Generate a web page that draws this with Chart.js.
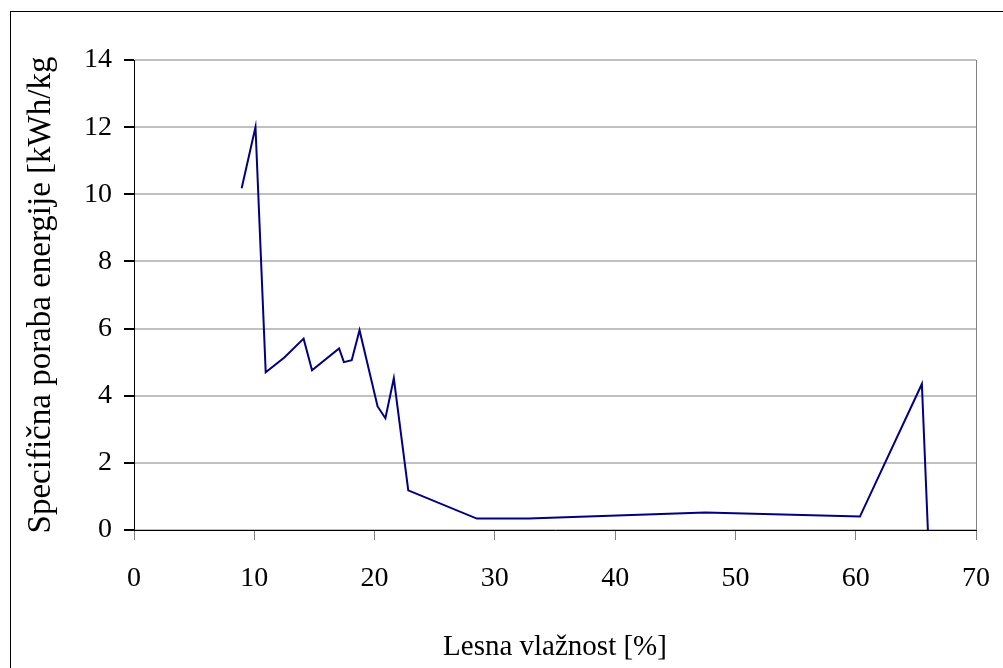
<!DOCTYPE html>
<html>
<head>
<meta charset="utf-8">
<script src="https://cdn.jsdelivr.net/npm/chart.js@4"></script>
<style>
    html, body { margin: 0; padding: 0; background: #fff; overflow: hidden; }
    #wrap { position: relative; width: 1003px; height: 668px; }
    #frame { position: absolute; left: 10px; top: 11px; width: 1100px; height: 800px; border: 1px solid #000; }
    #chart { position: absolute; left: 0; top: 0; }
</style>
</head>
<body>
<div id="wrap">
    <div id="frame"></div>
    <canvas id="chart" width="1003" height="668"></canvas>
</div>
<script>
// wood moisture [%] vs specific energy use [kWh/kg]
const moisture = [8.95, 10.1, 10.95, 12.5, 14.1, 14.8, 17.05, 17.45, 18.1, 18.75,
                  20.25, 20.9, 21.6, 22.8, 28.5, 32.8, 47.5, 60.35, 65.5, 66.0];
const energy = [10.18, 12.0, 4.7, 5.14, 5.7, 4.76, 5.41, 5.0, 5.06, 5.95,
                3.68, 3.33, 4.52, 1.18, 0.34, 0.34, 0.52, 0.4, 4.35, 0];
const xTicks = { min: 0, max: 70, step: 10 };
const yTicks = { min: 0, max: 14, step: 2 };

const serif = 'Liberation Serif, Times New Roman, serif';

const points = moisture.map((x, i) => ({ x: x, y: energy[i] }));

const ctx = document.getElementById('chart').getContext('2d');
new Chart(ctx, {
    type: 'line',
    data: {
        datasets: [{
            label: 'Specifična poraba energije',
            data: points,
            borderColor: '#000080',
            borderWidth: 2,
            pointRadius: 0,
            tension: 0,
            fill: false
        }]
    },
    options: {
        responsive: false,
        animation: false,
        layout: { padding: { top: 60, right: 27, left: 0, bottom: 0 } },
        plugins: {
            legend: { display: false },
            tooltip: { enabled: false }
        },
        scales: {
            x: {
                type: 'linear',
                min: xTicks.min,
                max: xTicks.max,
                afterFit: function(scale) {
                    scale.height = 138;
                    // tick padding is only wanted vertically
                    scale.paddingLeft = 0;
                    scale.paddingRight = 0;
                },
                ticks: {
                    stepSize: xTicks.step,
                    color: '#000',
                    font: { family: serif, size: 28 },
                    padding: 22,
                    maxRotation: 0
                },
                grid: {
                    drawOnChartArea: true,
                    color: function(c) { return c.tick && c.tick.value === xTicks.max ? '#808080' : 'rgba(0,0,0,0)'; },
                    tickColor: '#808080',
                    tickLength: 10,
                    lineWidth: 1
                },
                border: { color: '#000', width: 1 },
                title: {
                    display: true,
                    text: 'Lesna vlažnost [%]',
                    color: '#000',
                    font: { family: serif, size: 29 },
                    padding: { top: 0, bottom: 3 }
                }
            },
            y: {
                min: yTicks.min,
                max: yTicks.max,
                afterFit: function(scale) { scale.width = 134; },
                ticks: {
                    stepSize: yTicks.step,
                    color: '#000',
                    font: { family: serif, size: 28 },
                    padding: 12
                },
                grid: {
                    color: '#c0c0c0',
                    lineWidth: 2,
                    tickColor: '#000',
                    tickLength: 10
                },
                border: { color: '#000', width: 1 },
                title: {
                    display: true,
                    text: 'Specifična poraba energije [kWh/kg',
                    color: '#000',
                    font: { family: serif, size: 33 },
                    padding: { top: 22, bottom: 0 }
                }
            }
        }
    }
});
</script>
</body>
</html>
